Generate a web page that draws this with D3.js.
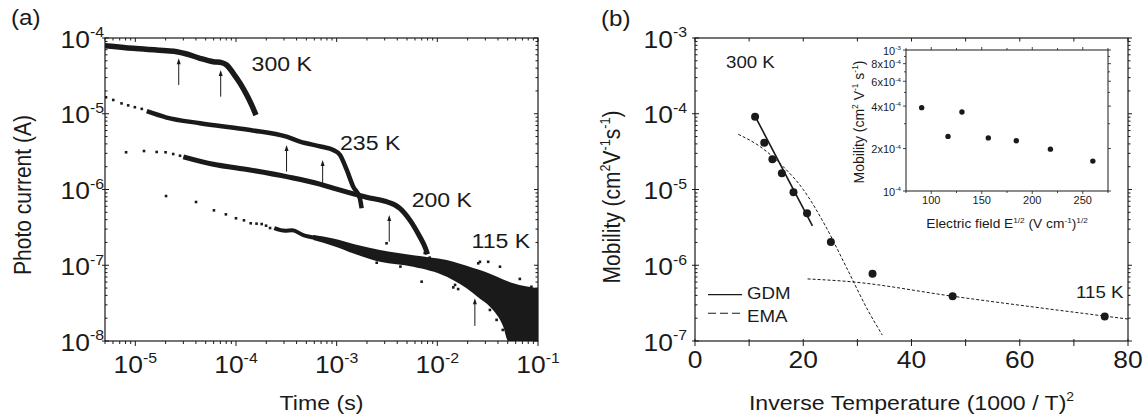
<!DOCTYPE html>
<html>
<head>
<meta charset="utf-8">
<script src="https://cdn.jsdelivr.net/npm/d3@7"></script>
<style>
    html, body { margin: 0; padding: 0; background: #fff; }
    svg { display: block; font-family: 'Liberation Sans', Arial, Helvetica, sans-serif; }
</style>
</head>
<body>
<svg id="chart" width="1145" height="420"></svg>
<script>
(function () {
    'use strict';

    // ---- (a) photocurrent transients, [time (s), current (A)] ----
    var c300 = [
        [5e-6, 7.9e-5], [9.5e-6, 7.3e-5], [2.05e-5, 6.8e-5], [2.58e-5, 6.6e-5],
        [3.24e-5, 6.15e-5], [4.39e-5, 5.4e-5], [5.96e-5, 4.87e-5], [7.2e-5, 4.72e-5],
        [8.07e-5, 4.4e-5], [9.4e-5, 3.42e-5], [1.1e-4, 2.52e-5], [1.28e-4, 1.77e-5],
        [1.43e-4, 1.31e-5], [1.58e-4, 9.6e-6]
    ];
    var c235Sparse = [
        [5.12e-6, 1.65e-5], [6.04e-6, 1.52e-5], [7.3e-6, 1.37e-5], [8.5e-6, 1.29e-5],
        [9.9e-6, 1.22e-5], [1.16e-5, 1.16e-5]
    ];
    var c235 = [
        [1.3e-5, 1.08e-5], [2.05e-5, 8.9e-6], [4.39e-5, 7.5e-6], [1.38e-4, 6.1e-6],
        [3.18e-4, 4.98e-6], [4.32e-4, 4.28e-6], [7.1e-4, 3.67e-6], [9.25e-4, 3.32e-6],
        [1.08e-3, 2.85e-6], [1.26e-3, 1.81e-6], [1.46e-3, 1.09e-6], [1.7e-3, 7.66e-7],
        [1.77e-3, 5.65e-7]
    ];
    var c200Sparse = [
        [8.1e-6, 3.1e-6], [1.22e-5, 3.22e-6], [1.63e-5, 3.13e-6], [2.0e-5, 3.1e-6],
        [2.38e-5, 2.94e-6], [2.78e-5, 2.79e-6]
    ];
    var c200 = [
        [3.0e-5, 2.7e-6], [5.96e-5, 2.15e-6], [1.38e-4, 1.81e-6], [3.18e-4, 1.48e-6],
        [6.8e-4, 1.18e-6], [9.25e-4, 1.04e-6], [1.98e-3, 7.9e-7], [3.13e-3, 6.9e-7],
        [4.25e-3, 5.65e-7], [5.34e-3, 3.95e-7], [6.7e-3, 2.38e-7], [7.6e-3, 1.7e-7],
        [8.0e-3, 1.4e-7]
    ];
    var c115Sparse = [
        [2.02e-5, 8.2e-7], [4.01e-5, 6.84e-7], [6.04e-5, 5.31e-7], [7.94e-5, 4.7e-7],
        [1.0e-4, 4.17e-7], [1.2e-4, 3.92e-7], [1.4e-4, 3.58e-7], [1.6e-4, 3.54e-7],
        [1.8e-4, 3.5e-7], [1.99e-4, 3.33e-7], [2.18e-4, 3.1e-7]
    ];
    var c115 = [
        [2.4e-4, 3.1e-7], [3.07e-4, 2.86e-7], [3.62e-4, 2.9e-7], [4.66e-4, 2.5e-7],
        [6.2e-4, 2.3e-7]
    ];
    // noisy tail of the 115 K trace: [time, upper, lower]
    var c115Band = [
        [5.86e-4, 2.5e-7, 2.15e-7], [9.25e-4, 2.25e-7, 1.8e-7], [1.5e-3, 1.9e-7, 1.42e-7],
        [2.69e-3, 1.59e-7, 1.11e-7], [5.75e-3, 1.36e-7, 9.57e-8],
        [1.24e-2, 1.17e-7, 7.06e-8], [2.27e-2, 9.2e-8, 4.27e-8], [2.65e-2, 8.65e-8, 3.6e-8],
        [3.33e-2, 7.7e-8, 2.84e-8], [4.51e-2, 6.5e-8, 1.55e-8], [5.06e-2, 6.1e-8, 1e-8],
        [5.68e-2, 5.78e-8, 1e-8], [0.1, 4.97e-8, 1e-8]
    ];
    var c115Noise = [
        [1.16e-3, 1.92e-7], [2.5e-3, 1.08e-7], [3.13e-3, 1.95e-7], [4.3e-3, 9.6e-8],
        [6.98e-3, 6.07e-8], [7.5e-3, 1.45e-7], [8.4e-3, 1.26e-7], [1.44e-2, 5.1e-8],
        [1.5e-2, 5.5e-8], [1.61e-2, 4.85e-8], [2.55e-2, 1.06e-7], [2.65e-2, 1.11e-7],
        [3.2e-2, 1.11e-7], [3.33e-2, 2.57e-8], [3.88e-2, 1.9e-8], [4.19e-2, 9.57e-8],
        [4.47e-2, 1.4e-8], [6.6e-2, 6.6e-8], [8.6e-2, 5.2e-8]
    ];
    // transit-time arrows: time, head current, tail current
    var arrowT = [2.7e-5, 7.05e-5, 3.18e-4, 7.26e-4, 3.33e-3, 2.36e-2];
    var arrowHead = [5.4e-5, 3.79e-5, 3.86e-6, 2.45e-6, 4.6e-7, 3.66e-8];
    var arrowTail = [2.4e-5, 1.68e-5, 1.72e-6, 1.21e-6, 2.05e-7, 1.58e-8];
    var tempLabelsA = ['300 K', '235 K', '200 K', '115 K'];
    var tempLabelT = [1.43e-4, 1.08e-3, 5.56e-3, 2.19e-2];
    var tempLabelI = [3.7e-5, 3.32e-6, 5.82e-7, 1.67e-7];

    // ---- (b) mobility vs (1000/T)^2 ----
    var invT = [11.1, 12.8, 14.3, 16.05, 18.2, 20.7, 25.1, 32.8, 47.6, 75.7];
    var mobility = [9.1e-5, 4.15e-5, 2.5e-5, 1.64e-5, 9.2e-6, 4.85e-6, 2.03e-6, 7.7e-7, 3.9e-7, 2.1e-7];
    var gdmX = [10.8, 21.7];
    var gdmY = [1.02e-4, 3.3e-6];
    var emaX = [8, 12, 16, 20, 24, 28, 32, 34.6];
    var emaY = [5.35e-5, 3.7e-5, 2.1e-5, 1.0e-5, 3.4e-6, 9.3e-7, 2.5e-7, 1.2e-7];
    var lowX = [20.8, 28.7, 47.6, 80];
    var lowY = [6.6e-7, 6.07e-7, 3.9e-7, 1.95e-7];

    // ---- inset: mobility vs E^1/2 at 300 K ----
    var fieldE = [90.5, 116.6, 130.4, 156.5, 184.2, 218, 260];
    var fieldMu = [3.9e-4, 2.44e-4, 3.63e-4, 2.38e-4, 2.27e-4, 1.98e-4, 1.63e-4];
    var insetFieldTicks = [75, 100, 125, 150, 175, 200, 225, 250, 275];
    var insetFieldLabels = [100, 150, 200, 250];
    var insetTickVals = [1e-4, 2e-4, 4e-4, 6e-4, 8e-4, 1e-3];
    var insetTickText = [['10', '-4'], ['2x10', '-4'], ['4x10', '-4'], ['6x10', '-4'], ['8x10', '-4'], ['10', '-3']];

    var svg = d3.select('#chart');
    var ink = '#1a1a1a';
    var SX = 1.1;   // glyphs in the figure are slightly wide

    var A = { l: 105, r: 538, t: 38, b: 341 };
    var B = { l: 695, r: 1128, t: 38, b: 341 };
    var I = { l: 906, r: 1108, t: 50, b: 191 };

    var xa = d3.scaleLog().domain([5e-6, 0.1]).range([A.l, A.r]);
    var ya = d3.scaleLog().domain([1e-8, 1e-4]).range([A.b, A.t]);
    var xb = d3.scaleLinear().domain([0, 80]).range([B.l, B.r]);
    var yb = d3.scaleLog().domain([1e-7, 1e-3]).range([B.b, B.t]);
    var xi = d3.scaleLinear().domain([75, 275]).range([I.l, I.r]);
    var yi = d3.scaleLog().domain([1e-4, 1e-3]).range([I.b, I.t]);

    // parts: [[text], [text, 's']] -- 's' marks a superscript
    function text(parent, x, y, size, anchor, parts, rot) {
        var t = parent.append('text')
            .attr('transform', 'translate(' + x + ',' + y + ') scale(' + SX + ',1)' + (rot ? ' rotate(' + rot + ')' : ''))
            .attr('font-size', size)
            .attr('text-anchor', anchor)
            .attr('fill', ink);
        var shift = 0;
        parts.forEach(function (p) {
            var sup = p[1] === 's';
            var want = sup ? -size * 0.42 : 0;
            t.append('tspan')
                .attr('dy', want - shift)
                .attr('font-size', sup ? size * 0.6 : size)
                .text(p[0]);
            shift = want;
        });
        return t;
    }

    function isDecade(v) {
        var l = Math.log10(v);
        return Math.abs(l - Math.round(l)) < 1e-6;
    }

    function tick(g, x1, y1, x2, y2, w) {
        g.append('line')
            .attr('x1', x1).attr('y1', y1).attr('x2', x2).attr('y2', y2)
            .attr('stroke', ink).attr('stroke-width', w || 1);
    }

    function frame(g, box, w) {
        g.append('rect')
            .attr('x', box.l).attr('y', box.t)
            .attr('width', box.r - box.l).attr('height', box.b - box.t)
            .attr('fill', 'none').attr('stroke', ink).attr('stroke-width', w);
    }

    // ================= panel (a) =================
    var ga = svg.append('g');
    svg.append('defs').append('clipPath').attr('id', 'clipA')
        .append('rect').attr('x', A.l).attr('y', A.t).attr('width', A.r - A.l).attr('height', A.b - A.t);

    var pa = ga.append('g').attr('clip-path', 'url(#clipA)');
    var lineA = d3.line()
        .x(function (d) { return xa(d[0]); })
        .y(function (d) { return ya(d[1]); })
        .curve(d3.curveMonotoneX);

    [[c300, 5.5], [c235, 4.5], [c200, 5], [c115, 4]].forEach(function (c) {
        pa.append('path')
            .attr('d', lineA(c[0]))
            .attr('fill', 'none')
            .attr('stroke', ink)
            .attr('stroke-width', c[1])
            .attr('stroke-linejoin', 'round');
    });

    pa.append('path')
        .attr('d', d3.area()
            .x(function (d) { return xa(d[0]); })
            .y0(function (d) { return ya(d[2]); })
            .y1(function (d) { return ya(d[1]); })
            .curve(d3.curveMonotoneX)(c115Band))
        .attr('fill', ink);

    var sq = 2.6;
    pa.selectAll('rect.pt')
        .data(c235Sparse.concat(c200Sparse, c115Sparse, c115Noise))
        .enter().append('rect')
        .attr('class', 'pt')
        .attr('x', function (d) { return xa(d[0]) - sq / 2; })
        .attr('y', function (d) { return ya(d[1]) - sq / 2; })
        .attr('width', sq).attr('height', sq)
        .attr('fill', ink);

    // arrows
    arrowT.forEach(function (t, i) {
        var x = xa(t), yh = ya(arrowHead[i]), yt = ya(arrowTail[i]);
        tick(ga, x, yt, x, yh + 4, 1);
        ga.append('path')
            .attr('d', 'M' + x + ',' + yh + 'L' + (x - 2) + ',' + (yh + 6) + 'L' + (x + 2) + ',' + (yh + 6) + 'Z')
            .attr('fill', ink);
    });

    tempLabelsA.forEach(function (s, i) {
        text(ga, xa(tempLabelT[i]), ya(tempLabelI[i]), 21, 'start', [[s]]);
    });

    frame(ga, A, 1.2);
    xa.ticks().forEach(function (t) {
        var big = isDecade(t), x = xa(t);
        tick(ga, x, A.b, x, A.b + (big ? 5 : 3));
        tick(ga, x, A.t, x, A.t + (big ? 4 : 2.5));
        if (big) {
            text(ga, x, 373, 24, 'middle', [['10'], [String(Math.round(Math.log10(t))), 's']]);
        }
    });
    ya.ticks().forEach(function (v) {
        var big = isDecade(v), y = ya(v);
        tick(ga, A.l - (big ? 3 : 0), y, A.l + (big ? 4 : 2.5), y);
        tick(ga, A.r - (big ? 4 : 2.5), y, A.r, y);
        if (big) {
            text(ga, A.l - 1, y + 9.5, 24, 'end', [['10'], [String(Math.round(Math.log10(v))), 's']]);
        }
    });

    text(ga, 321.5, 410, 21, 'middle', [['Time (s)']]);
    text(ga, 31, 195, 21, 'middle', [['Photo current (A)']], -90);
    text(ga, 11, 25, 22, 'start', [['(a)']]);

    // ================= panel (b) =================
    var gb = svg.append('g');
    svg.select('defs').append('clipPath').attr('id', 'clipB')
        .append('rect').attr('x', B.l).attr('y', B.t).attr('width', B.r - B.l).attr('height', B.b - B.t);
    var pb = gb.append('g').attr('clip-path', 'url(#clipB)');

    var lineB = d3.line()
        .x(function (d) { return xb(d[0]); })
        .y(function (d) { return yb(d[1]); });

    pb.append('path')
        .attr('d', lineB.curve(d3.curveMonotoneX)(emaX.map(function (x, i) { return [x, emaY[i]]; })))
        .attr('fill', 'none').attr('stroke', ink).attr('stroke-width', 1)
        .attr('stroke-dasharray', '3,2');
    pb.append('path')
        .attr('d', lineB.curve(d3.curveMonotoneX)(lowX.map(function (x, i) { return [x, lowY[i]]; })))
        .attr('fill', 'none').attr('stroke', ink).attr('stroke-width', 1)
        .attr('stroke-dasharray', '3,2');
    pb.append('path')
        .attr('d', lineB.curve(d3.curveLinear)(gdmX.map(function (x, i) { return [x, gdmY[i]]; })))
        .attr('fill', 'none').attr('stroke', ink).attr('stroke-width', 1.6);

    pb.selectAll('circle.mu')
        .data(invT)
        .enter().append('circle')
        .attr('class', 'mu')
        .attr('cx', function (d) { return xb(d); })
        .attr('cy', function (d, i) { return yb(mobility[i]); })
        .attr('r', 4)
        .attr('fill', ink);

    frame(gb, B, 1.2);
    xb.ticks(8).forEach(function (v) {
        var big = v % 20 === 0, x = xb(v);
        tick(gb, x, B.b - 2, x, B.b + 5);
        tick(gb, x, B.t, x, B.t + 3.5);
        if (big) {
            text(gb, x, 368, 24, 'middle', [[String(v)]]);
        }
    });
    yb.ticks().forEach(function (v) {
        var big = isDecade(v), y = yb(v);
        tick(gb, B.l - (big ? 3 : 0), y, B.l + (big ? 4 : 2.5), y);
        tick(gb, B.r, y, B.r + (big ? 4 : 2.5), y);
        if (big) {
            text(gb, B.l - 8, y + 9.5, 24, 'end', [['10'], [String(Math.round(Math.log10(v))), 's']]);
        }
    });

    text(gb, 911.5, 410, 21, 'middle', [['Inverse Temperature (1000 / T)'], ['2', 's']]);
    text(gb, 620, 197, 21, 'middle', [['Mobility (cm'], ['2', 's'], ['V'], ['-1', 's'], ['s'], ['-1', 's'], [')']], -90);
    text(gb, 601, 26, 22, 'start', [['(b)']]);
    text(gb, 726, 68.3, 17, 'start', [['300 K']]);
    text(gb, 1076, 298.3, 17, 'start', [['115 K']]);

    // legend
    tick(gb, 708, 294.7, 742, 294.7, 1.2);
    gb.append('line')
        .attr('x1', 708).attr('y1', 313.3).attr('x2', 743).attr('y2', 313.3)
        .attr('stroke', ink).attr('stroke-width', 1.1).attr('stroke-dasharray', '8,4');
    text(gb, 747, 299.3, 17, 'start', [['GDM']]);
    text(gb, 747, 322.3, 17, 'start', [['EMA']]);

    // ================= inset =================
    var gi = svg.append('g');
    gi.append('rect')
        .attr('x', I.l).attr('y', I.t).attr('width', I.r - I.l).attr('height', I.b - I.t)
        .attr('fill', '#fff');
    gi.selectAll('circle.e')
        .data(fieldE)
        .enter().append('circle')
        .attr('class', 'e')
        .attr('cx', function (d) { return xi(d); })
        .attr('cy', function (d, i) { return yi(fieldMu[i]); })
        .attr('r', 2.7)
        .attr('fill', ink);
    frame(gi, I, 1);

    insetFieldTicks.forEach(function (v) {
        var big = insetFieldLabels.indexOf(v) >= 0, x = xi(v);
        tick(gi, x, I.b, x, I.b + (big ? 3 : 2), 0.8);
        tick(gi, x, I.t, x, I.t - (big ? 3 : 2), 0.8);
    });
    insetFieldLabels.forEach(function (v) {
        text(gi, xi(v), 204, 10, 'middle', [[String(v)]]);
    });
    yi.ticks().forEach(function (v) {
        var major = insetTickVals.some(function (m) { return Math.abs(m - v) / m < 1e-6; });
        var y = yi(v);
        tick(gi, I.l - (major ? 3 : 2), y, I.l, y, 0.8);
        tick(gi, I.r, y, I.r + (major ? 3 : 2), y, 0.8);
    });
    insetTickVals.forEach(function (v, i) {
        text(gi, I.l - 5, yi(v) + 4.5, 10, 'end', [[insetTickText[i][0]], [insetTickText[i][1], 's']]);
    });

    text(gi, 1007, 228, 12.5, 'middle', [['Electric field E'], ['1/2', 's'], [' (V cm'], ['-1', 's'], [')'], ['1/2', 's']]);
    text(gi, 864, 122, 14, 'middle', [['Mobility (cm'], ['2', 's'], [' V'], ['-1', 's'], [' s'], ['-1', 's'], [')']], -90);
}());
</script>
</body>
</html>
